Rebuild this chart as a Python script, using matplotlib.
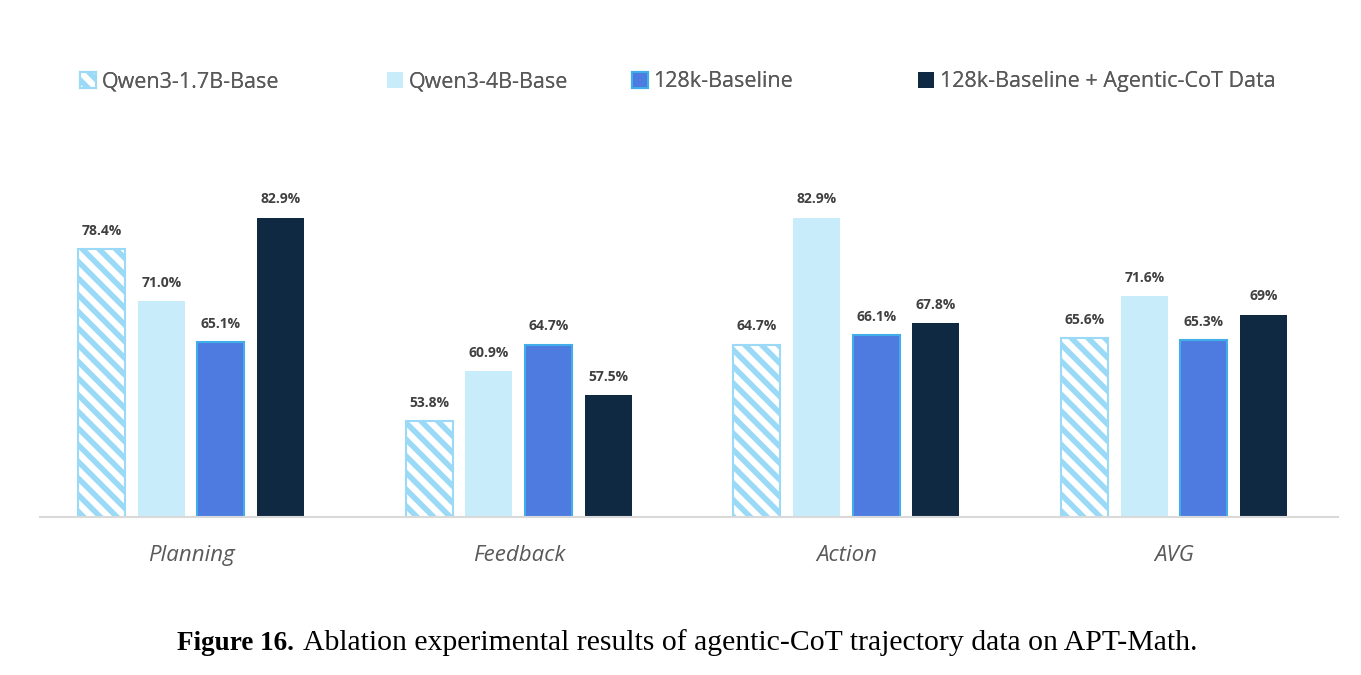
import numpy as np
import matplotlib.pyplot as plt
from matplotlib.patches import Patch

# Data
categories = ['Planning', 'Feedback', 'Action', 'AVG']
series_names = ['Qwen3-1.7B-Base', 'Qwen3-4B-Base', '128k-Baseline',
                '128k-Baseline + Agentic-CoT Data']
qwen_17b = [78.4, 53.8, 64.7, 65.6]
qwen_4b = [71.0, 60.9, 82.9, 71.6]
baseline = [65.1, 64.7, 66.1, 65.3]
agentic = [82.9, 57.5, 67.8, 69.0]
value_labels = [
    ['78.4%', '53.8%', '64.7%', '65.6%'],
    ['71.0%', '60.9%', '82.9%', '71.6%'],
    ['65.1%', '64.7%', '66.1%', '65.3%'],
    ['82.9%', '57.5%', '67.8%', '69%'],
]

plt.rcParams['hatch.linewidth'] = 4.0
fig = plt.figure(figsize=(13.61, 6.75), dpi=100)
ax = fig.add_axes([0.0294, 0.234, 0.9536, 0.517])

x = np.arange(len(categories))
pitch = 0.182
width = 0.143
styles = [
    dict(facecolor='white', edgecolor='#9ADAF7', hatch='\\\\', linewidth=1.5),
    dict(facecolor='#C9ECFB', edgecolor='#C9ECFB', linewidth=0),
    dict(facecolor='#4D7BE0', edgecolor='#41AEEA', linewidth=1.5),
    dict(facecolor='#0F2942', edgecolor='#0F2942', linewidth=0),
]
all_vals = [qwen_17b, qwen_4b, baseline, agentic]
for i, (vals, st) in enumerate(zip(all_vals, styles)):
    pos = x + (i - 1.5) * pitch
    ax.bar(pos, vals, width, bottom=0, **st)
    for px, v, lab in zip(pos, vals, value_labels[i]):
        ax.text(px, v + 1.6, lab, ha='center', va='bottom', fontsize=10,
                fontweight='bold', color='#404040', family='Open Sans')

ax.set_ylim(40, 90)
ax.set_xlim(-0.461, 3.50)
ax.set_yticks([])
ax.set_xticks(x)
ax.set_xticklabels(categories, fontstyle='italic', fontsize=16,
                   color='#595959', family='Open Sans')
ax.tick_params(axis='x', length=0, pad=20)
for s in ['top', 'left', 'right']:
    ax.spines[s].set_visible(False)
ax.spines['bottom'].set_color('#D9D9D9')
ax.spines['bottom'].set_linewidth(1.5)

# legend: one entry per series, placed across the top
legend_x = [80, 387, 632, 918]
for lx, st, name in zip(legend_x, styles, series_names):
    leg = fig.legend([Patch(**st)], [name], loc='center left',
                     bbox_to_anchor=(lx / 1361, 0.879), frameon=False,
                     handlelength=0.75, handleheight=0.75, handletextpad=0.25,
                     borderaxespad=0, borderpad=0,
                     prop={'family': 'Open Sans', 'size': 15.5}, labelcolor='#595959')
    fig.add_artist(leg)

# caption: bold prefix followed by regular text
cap_y = 0.037
t1 = fig.text(177 / 1361, cap_y, 'Figure 16.', fontsize=19.5, fontweight='bold',
              family='Liberation Serif', va='baseline')
fig.canvas.draw()
bb = t1.get_window_extent()
fig.text((bb.x1 + 9) / 1361, cap_y,
         'Ablation experimental results of agentic-CoT trajectory data on APT-Math.',
         fontsize=21.4, family='Liberation Serif', va='baseline')

fig.savefig('out.png', dpi=100)
